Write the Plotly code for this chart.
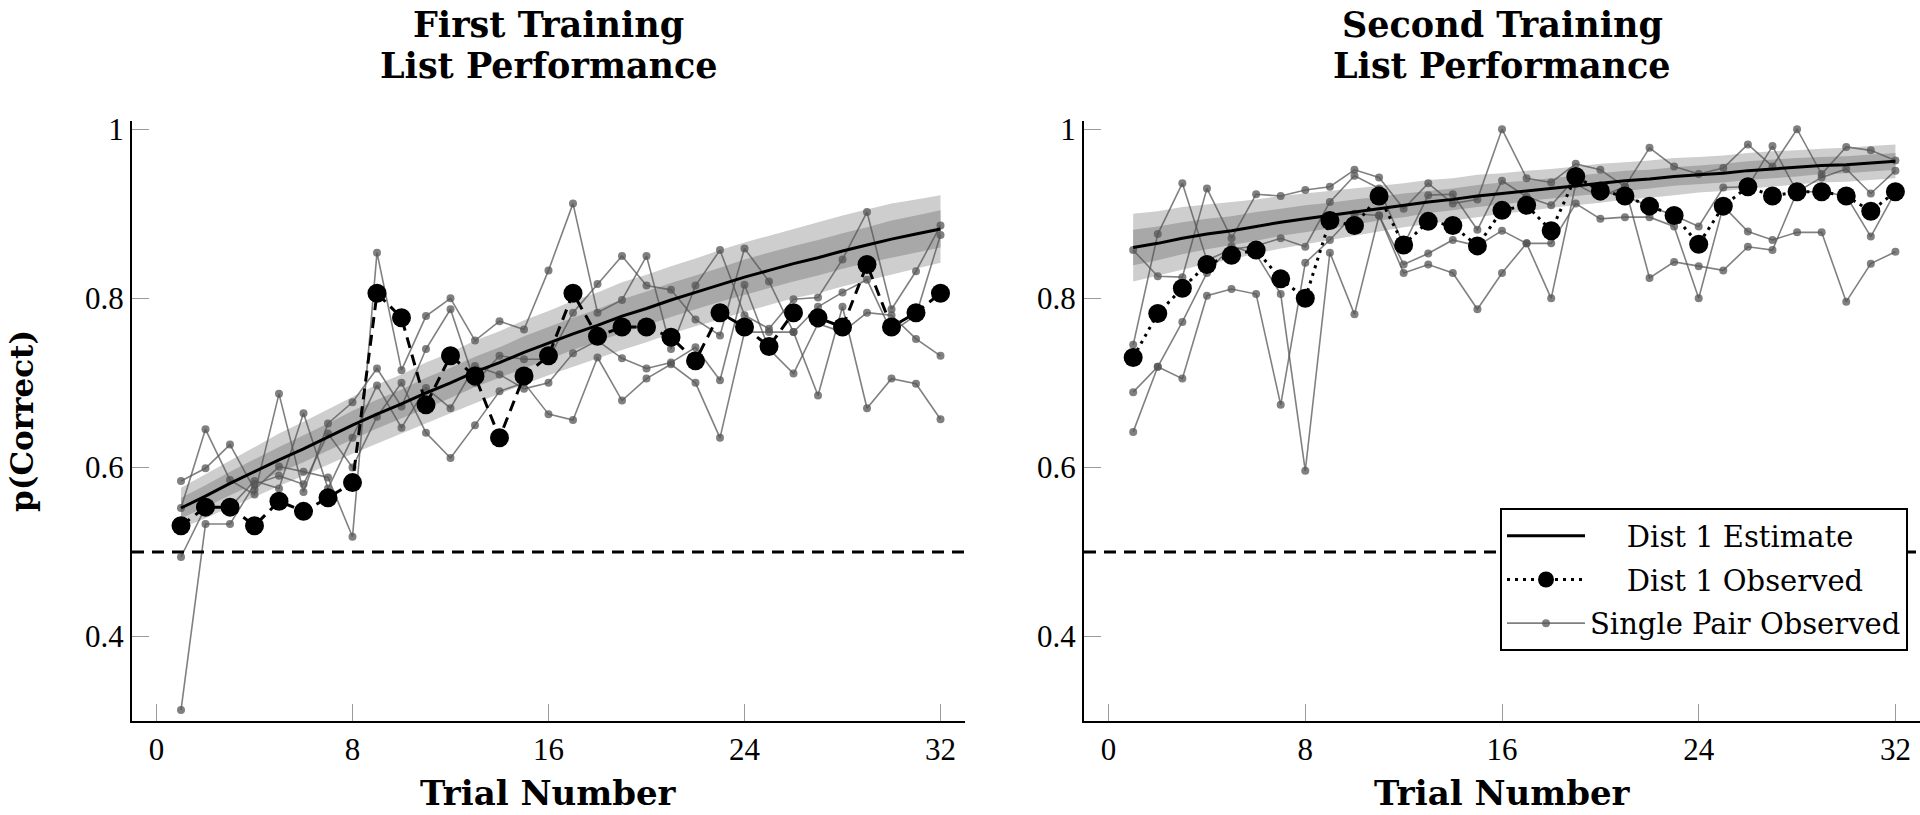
import plotly.graph_objects as go

# ---------------- data ----------------
trials = list(range(1, 33))
x_tick_vals = [0, 8, 16, 24, 32]
y_tick_vals = [0.4, 0.6, 0.8, 1.0]
y_tick_text = ["0.4", "0.6", "0.8", "1"]
chance_level = 0.5

panel_titles = [["First Training", "List Performance"], ["Second Training", "List Performance"]]
x_title = "Trial Number"
y_title = "p(Correct)"
legend_names = ["Dist 1 Estimate", "Dist 1 Observed", "Single Pair Observed"]

# First training list
est_first = [0.552, 0.566, 0.581, 0.595, 0.609, 0.622, 0.636, 0.650, 0.663, 0.675, 0.688, 0.700,
             0.713, 0.724, 0.736, 0.747, 0.758, 0.768, 0.779, 0.788, 0.798, 0.807, 0.816, 0.825,
             0.833, 0.841, 0.848, 0.856, 0.863, 0.870, 0.876, 0.882]
outer_hw_first = [0.024, 0.026, 0.028, 0.030, 0.031, 0.032, 0.033, 0.034, 0.035, 0.035, 0.036, 0.036,
                  0.037, 0.037, 0.038, 0.038, 0.039, 0.039, 0.040, 0.040, 0.040, 0.040, 0.041, 0.041,
                  0.041, 0.041, 0.042, 0.042, 0.042, 0.042, 0.041, 0.040]
inner_hw_first = [0.012, 0.013, 0.014, 0.015, 0.015, 0.016, 0.016, 0.017, 0.017, 0.017, 0.018, 0.018,
                  0.018, 0.018, 0.019, 0.019, 0.019, 0.019, 0.020, 0.020, 0.020, 0.020, 0.020, 0.021,
                  0.021, 0.021, 0.021, 0.021, 0.021, 0.022, 0.022, 0.022]
obs_first = [0.531, 0.553, 0.553, 0.531, 0.560, 0.548, 0.564, 0.582, 0.806, 0.777, 0.674, 0.732,
             0.708, 0.635, 0.708, 0.732, 0.806, 0.755, 0.766, 0.766, 0.754, 0.726, 0.783, 0.766,
             0.743, 0.783, 0.777, 0.766, 0.840, 0.766, 0.783, 0.806]
pair_first_a = [0.584, 0.599, 0.627, 0.574, 0.601, 0.595, 0.588, 0.518, 0.854, 0.715, 0.779, 0.800,
                0.750, 0.773, 0.763, 0.833, 0.912, 0.783, 0.798, 0.850, 0.740, 0.815, 0.857, 0.780,
                0.764, 0.799, 0.801, 0.846, 0.902, 0.787, 0.832, 0.886]
pair_first_b = [0.552, 0.645, 0.585, 0.568, 0.687, 0.571, 0.652, 0.677, 0.717, 0.672, 0.740, 0.787,
                0.700, 0.732, 0.728, 0.728, 0.783, 0.817, 0.850, 0.815, 0.810, 0.775, 0.756, 0.859,
                0.820, 0.760, 0.790, 0.807, 0.822, 0.760, 0.780, 0.875]
pair_first_c = [0.494, 0.553, 0.553, 0.584, 0.575, 0.664, 0.575, 0.635, 0.697, 0.647, 0.694, 0.670,
                0.720, 0.710, 0.693, 0.700, 0.735, 0.750, 0.729, 0.717, 0.724, 0.742, 0.703, 0.816,
                0.740, 0.711, 0.770, 0.760, 0.783, 0.780, 0.752, 0.732]
pair_first_d = [0.313, 0.533, 0.533, 0.580, 0.590, 0.580, 0.640, 0.600, 0.660, 0.700, 0.641, 0.611,
                0.650, 0.690, 0.700, 0.663, 0.656, 0.730, 0.679, 0.705, 0.722, 0.700, 0.635, 0.760,
                0.760, 0.760, 0.685, 0.790, 0.670, 0.705, 0.699, 0.657]

# Second training list
est_second = [0.860, 0.865, 0.871, 0.876, 0.880, 0.885, 0.890, 0.894, 0.898, 0.902, 0.906, 0.910,
              0.914, 0.917, 0.921, 0.924, 0.927, 0.930, 0.933, 0.936, 0.939, 0.941, 0.944, 0.946,
              0.948, 0.951, 0.953, 0.955, 0.957, 0.958, 0.960, 0.962]
outer_hw_second = [0.040, 0.038, 0.037, 0.035, 0.034, 0.032, 0.031, 0.030, 0.029, 0.028, 0.027, 0.026,
                   0.026, 0.025, 0.025, 0.024, 0.024, 0.023, 0.023, 0.023, 0.022, 0.022, 0.022, 0.021,
                   0.021, 0.021, 0.021, 0.020, 0.020, 0.020, 0.020, 0.020]
inner_hw_second = [0.021, 0.020, 0.019, 0.018, 0.017, 0.017, 0.016, 0.016, 0.015, 0.015, 0.014, 0.014,
                   0.013, 0.013, 0.013, 0.013, 0.012, 0.012, 0.012, 0.012, 0.012, 0.011, 0.011, 0.011,
                   0.011, 0.011, 0.011, 0.011, 0.010, 0.010, 0.010, 0.010]
obs_second = [0.730, 0.782, 0.812, 0.840, 0.851, 0.857, 0.823, 0.800, 0.892, 0.886, 0.921, 0.863,
              0.891, 0.886, 0.862, 0.904, 0.910, 0.880, 0.944, 0.927, 0.921, 0.909, 0.898, 0.864,
              0.909, 0.932, 0.921, 0.926, 0.926, 0.921, 0.903, 0.926]
pair_second_a = [0.857, 0.826, 0.825, 0.930, 0.871, 0.923, 0.921, 0.928, 0.932, 0.952, 0.943, 0.906,
                 0.936, 0.912, 0.917, 1.000, 0.942, 0.937, 0.959, 0.952, 0.932, 0.978, 0.956, 0.947,
                 0.954, 0.982, 0.956, 1.000, 0.947, 0.979, 0.975, 0.963]
pair_second_b = [0.745, 0.876, 0.936, 0.845, 0.858, 0.862, 0.871, 0.861, 0.914, 0.945, 0.930, 0.863,
                 0.922, 0.923, 0.881, 0.939, 0.920, 0.910, 0.943, 0.926, 0.921, 0.909, 0.898, 0.885,
                 0.931, 0.932, 0.980, 0.926, 0.943, 0.953, 0.924, 0.951]
pair_second_c = [0.689, 0.719, 0.705, 0.803, 0.811, 0.805, 0.674, 0.842, 0.869, 0.900, 0.898, 0.840,
                 0.853, 0.869, 0.862, 0.880, 0.865, 0.865, 0.912, 0.894, 0.896, 0.896, 0.885, 0.800,
                 0.909, 0.879, 0.869, 0.878, 0.878, 0.796, 0.841, 0.855]
pair_second_d = [0.642, 0.719, 0.772, 0.830, 0.862, 0.852, 0.805, 0.596, 0.854, 0.781, 0.898, 0.830,
                 0.840, 0.830, 0.787, 0.830, 0.865, 0.800, 0.935, 0.920, 0.932, 0.824, 0.843, 0.838,
                 0.833, 0.861, 0.857, 0.926, 0.926, 0.921, 0.873, 0.926]

panels = [
    dict(est=est_first, outer=outer_hw_first, inner=inner_hw_first, obs=obs_first,
         pairs=[pair_first_a, pair_first_b, pair_first_c, pair_first_d], obs_dash="11px,7px"),
    dict(est=est_second, outer=outer_hw_second, inner=inner_hw_second, obs=obs_second,
         pairs=[pair_second_a, pair_second_b, pair_second_c, pair_second_d], obs_dash="3px,5px"),
]

# ---------------- styles ----------------
W, H = 1920, 815
serif = "Liberation Serif"
wide_serif = "DejaVu Serif"
light_band = "rgb(206,206,206)"
dark_band = "rgb(168,168,168)"
pair_color = "rgba(85,85,85,0.75)"
NB = "\u00a0"
legend_pad = [NB * 4, NB * 4, ""]   # visual centring of the legend labels

x_domains = [[132 / W, 965 / W], [1084 / W, 1.0]]
y_domain = [(H - 720) / H, (H - 113) / H]

fig = go.Figure()

for i, p in enumerate(panels):
    xa = "x" if i == 0 else "x2"
    ya = "y" if i == 0 else "y2"
    show = (i == 1)
    hi = [e + h for e, h in zip(p["est"], p["outer"])]
    lo = [e - h for e, h in zip(p["est"], p["outer"])]
    fig.add_trace(go.Scatter(x=trials + trials[::-1], y=hi + lo[::-1], fill="toself",
                             fillcolor=light_band, line=dict(width=0), mode="lines",
                             hoverinfo="skip", showlegend=False, xaxis=xa, yaxis=ya))
    hi = [e + h for e, h in zip(p["est"], p["inner"])]
    lo = [e - h for e, h in zip(p["est"], p["inner"])]
    fig.add_trace(go.Scatter(x=trials + trials[::-1], y=hi + lo[::-1], fill="toself",
                             fillcolor=dark_band, line=dict(width=0), mode="lines",
                             hoverinfo="skip", showlegend=False, xaxis=xa, yaxis=ya))
    for k, s in enumerate(p["pairs"]):
        fig.add_trace(go.Scatter(x=trials, y=s, mode="lines+markers",
                                 line=dict(color=pair_color, width=1.6),
                                 marker=dict(color=pair_color, size=8),
                                 name=legend_pad[2] + legend_names[2], legendgroup="g3",
                                 legendrank=3, showlegend=(show and k == 0), xaxis=xa, yaxis=ya))
    fig.add_trace(go.Scatter(x=trials, y=p["est"], mode="lines",
                             line=dict(color="black", width=3),
                             name=legend_pad[0] + legend_names[0], legendgroup="g1", legendrank=1,
                             showlegend=show, xaxis=xa, yaxis=ya))
    fig.add_trace(go.Scatter(x=trials, y=p["obs"], mode="lines+markers",
                             line=dict(color="black", width=3, dash=p["obs_dash"]),
                             marker=dict(color="black", size=19),
                             name=legend_pad[1] + legend_names[1], legendgroup="g2", legendrank=2,
                             showlegend=show, xaxis=xa, yaxis=ya))
    fig.add_shape(type="line", xref=f"{xa} domain", yref=ya, x0=0, x1=1,
                  y0=chance_level, y1=chance_level,
                  line=dict(color="black", width=3, dash="12px,8px"), layer="above")

axis_common = dict(showgrid=False, zeroline=False, showline=True, linecolor="black", linewidth=2,
                   ticks="inside", ticklen=17, tickwidth=1.2, tickcolor="#9a9a9a",
                   tickfont=dict(family=serif, size=31, color="black"))

title_font = dict(family=wide_serif, size=35, color="black", weight="bold")
for i in range(2):
    sfx = "" if i == 0 else "2"
    fig.layout["xaxis" + sfx] = dict(domain=x_domains[i], range=[-1, 33], tickvals=x_tick_vals,
                                     anchor="y" + sfx, **axis_common)
    fig.layout["yaxis" + sfx] = dict(domain=y_domain, range=[0.3, 1.01], tickvals=y_tick_vals,
                                     ticktext=y_tick_text, anchor="x" + sfx, **axis_common)
    cx = (x_domains[i][0] + x_domains[i][1]) / 2
    for line_text, y_px in zip(panel_titles[i], [16, 57]):
        fig.add_annotation(text=line_text, x=cx, y=1 - y_px / H, xref="paper", yref="paper",
                           xanchor="center", yanchor="middle", showarrow=False, font=title_font)
    fig.add_annotation(text=x_title, x=cx, y=22 / H, xref="paper", yref="paper",
                       xanchor="center", yanchor="middle", showarrow=False,
                       font=dict(family=wide_serif, size=34, color="black", weight="bold"))

fig.add_annotation(text=y_title, x=22 / W, y=(y_domain[0] + y_domain[1]) / 2, xref="paper",
                   yref="paper", xanchor="center", yanchor="middle", textangle=-90,
                   showarrow=False,
                   font=dict(family=wide_serif, size=31, color="black", weight="bold"))

fig.update_layout(
    width=W, height=H,
    margin=dict(l=0, r=0, t=0, b=0),
    plot_bgcolor="white", paper_bgcolor="white",
    legend=dict(x=1908 / W, xanchor="right", y=(H - 505) / H, yanchor="top",
                bgcolor="white", bordercolor="black", borderwidth=2,
                font=dict(family=wide_serif, size=29, color="black"),
                itemwidth=78, tracegroupgap=3, traceorder="grouped"),
)

fig.write_html("out.html", config={"displayModeBar": False},
               post_script="document.body.style.margin='0px';document.body.style.overflow='hidden';")
